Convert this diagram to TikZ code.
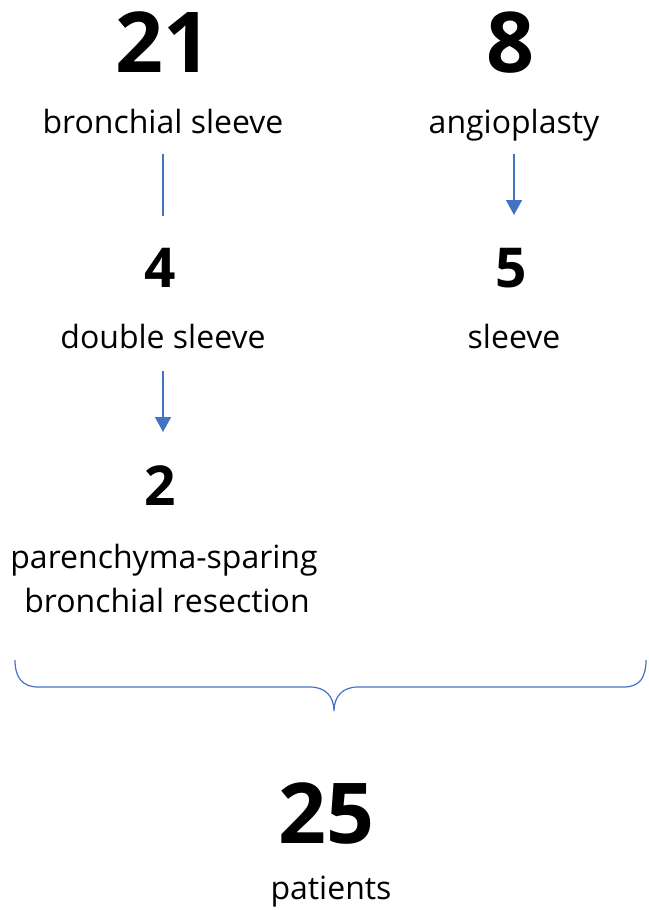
\documentclass[tikz,border=0pt]{standalone}
\usepackage{fontspec}
\setmainfont{Open Sans}
\usepackage{xcolor}
\usetikzlibrary{positioning, arrows.meta}
\definecolor{lineblue}{RGB}{68, 114, 196}

\begin{document}
\begin{tikzpicture}[x=1pt, y=-1pt,
    bignum/.style={font=\fontsize{84}{84}\selectfont\bfseries, anchor=base, inner sep=0pt},
    smallnum/.style={font=\fontsize{55}{55}\selectfont\bfseries, anchor=base, inner sep=0pt},
    desc/.style={font=\fontsize{32}{38}\selectfont, anchor=base, inner sep=0pt},
    flow/.style={draw=lineblue, line width=1.6pt},
    flowarrow/.style={flow, -{Triangle[length=15pt, width=16pt]}}]
    \useasboundingbox (0,0) rectangle (648,910);

    % left column
    \node[bignum] (n21) at (163,72) {21};
    \node[desc] (t21) at (163,133) {bronchial sleeve};
    \node[smallnum] (n4) at (160,287) {4};
    \node[desc] (t4) at (163,348) {double sleeve};
    \node[smallnum] (n2) at (160,505) {2};
    \node[desc] (t2a) at (164,568) {parenchyma-sparing};
    \node[desc] (t2b) at (167,612) {bronchial resection};

    % right column
    \node[bignum] (n8) at (510,72) {8};
    \node[desc] (t8) at (514,133) {angioplasty};
    \node[smallnum] (n5) at (511,287) {5};
    \node[desc] (t5) at (514,348) {sleeve};

    % total
    \node[bignum] (n25) at (326,843) {25};
    \node[desc] (t25) at (331,899) {patients};

    % connectors
    \draw[flow] ([yshift=-21pt]t21.base) -- ([yshift=71pt]t21.base |- n4.base);
    \draw[flowarrow] ([yshift=-23pt]t4.base) -- ([yshift=73pt]t4.base |- n2.base);
    \draw[flowarrow] ([yshift=-21pt]t8.base) -- ([yshift=72pt]t8.base |- n5.base);

    % brace
    \coordinate (tip) at (334,711);
    \draw[draw=lineblue, line width=1.2pt]
        (15,660) .. controls (15,677) and (22,687) .. (38,687) -- (310,687)
        .. controls (326,687) and (334,697) .. (tip)
        .. controls (334,697) and (342,687) .. (358,687) -- (624,687)
        .. controls (640,687) and (646,677) .. (646,660);
\end{tikzpicture}
\end{document}
